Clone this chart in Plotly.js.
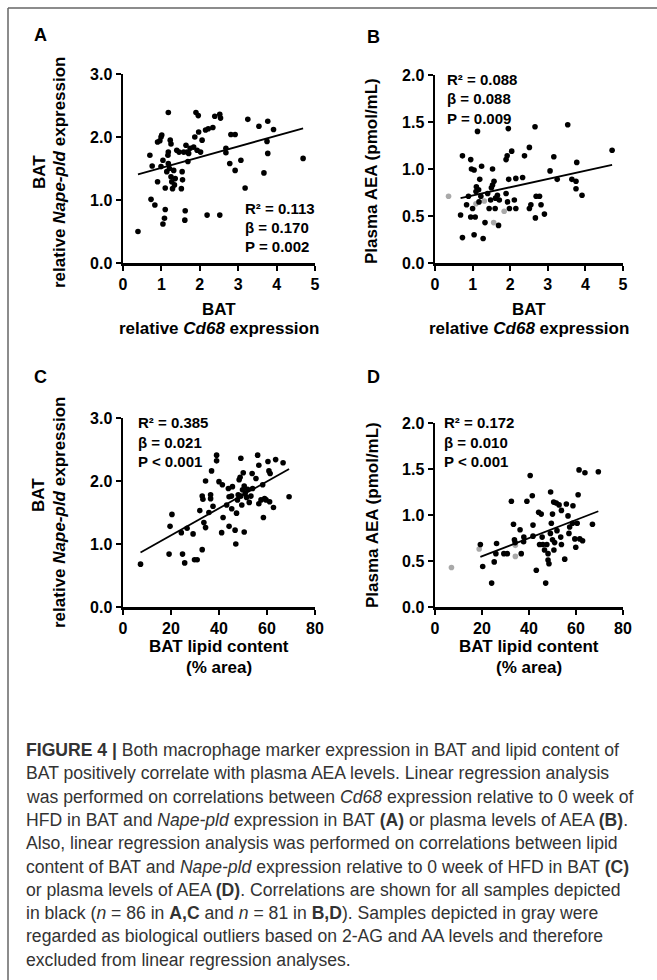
<!DOCTYPE html>
<html>
<head>
<meta charset="utf-8">
<script src="https://cdn.plot.ly/plotly-3.0.1.min.js"></script>
<style>html,body{margin:0;padding:0;background:#fff;}#chart{width:657px;height:980px;}</style>
</head>
<body>
<div id="chart"></div>
<script>
// ---------- Panel A: Cd68 (x) vs Nape-pld (y) ----------
const aBlackX = [0.39,0.70,0.73,0.76,0.83,0.90,0.90,0.96,0.99,1.01,1.04,0.99,1.04,1.08,1.10,1.10,1.18,1.14,1.17,1.18,1.18,1.23,1.25,1.21,1.25,1.27,1.29,1.32,1.34,1.36,1.40,1.46,1.52,1.54,1.55,1.58,1.61,1.62,1.64,1.67,1.69,1.71,1.75,1.84,1.87,1.90,1.96,1.93,1.97,2.02,2.06,2.15,2.19,2.22,2.34,2.39,2.52,2.54,2.52,2.68,2.68,2.78,2.81,2.92,2.92,3.07,3.18,3.25,3.54,3.67,3.75,3.77,3.77,3.92,4.69];
const aBlackY = [0.50,1.71,1.01,1.54,0.92,1.29,1.92,1.94,2.00,2.03,1.63,1.53,0.62,0.71,0.85,1.19,2.39,1.45,1.71,1.76,1.58,1.95,1.89,1.50,1.37,1.29,1.18,1.47,1.24,1.34,1.79,1.76,1.18,1.45,1.32,1.76,0.68,0.83,1.87,1.76,1.61,1.74,1.82,1.84,2.00,2.39,2.34,1.79,2.08,1.76,1.95,2.11,0.76,2.13,2.15,2.33,2.36,2.30,0.76,1.82,1.75,1.58,2.04,2.04,1.47,1.63,1.19,2.28,2.17,1.43,1.93,2.25,1.74,2.12,1.66];

// ---------- Panel B: Cd68 (x) vs plasma AEA (y) ----------
const bBlackX = [1.13,1.95,2.66,3.53,4.71,0.73,0.95,0.97,1.04,1.24,1.53,1.89,1.92,2.04,2.38,2.51,3.16,3.06,3.25,3.77,3.64,3.75,3.75,3.91,1.96,2.15,2.33,0.68,0.73,0.84,0.89,0.95,1.00,1.04,1.07,1.09,1.10,1.16,1.17,1.19,1.22,1.28,1.33,1.40,1.44,1.48,1.50,1.53,1.57,1.60,1.61,1.66,1.69,1.71,1.89,1.93,1.98,2.11,2.15,2.51,2.55,2.67,2.69,2.78,2.82,2.91];
const bBlackY = [1.40,1.43,1.45,1.47,1.20,1.14,1.10,1.00,0.99,1.03,1.00,1.10,1.14,1.19,1.14,1.23,1.13,0.98,0.89,1.07,0.89,0.87,0.79,0.72,0.89,0.90,0.91,0.51,0.27,0.62,0.71,0.49,0.58,0.30,0.49,0.76,0.81,0.78,0.65,0.89,0.71,0.26,0.43,0.74,0.58,0.67,0.80,0.83,0.87,0.58,0.69,0.72,0.40,0.67,0.74,0.65,0.58,0.67,0.58,0.58,0.62,0.48,0.71,0.71,0.62,0.52];
const bGrayX = [0.36,1.09,1.31,1.56,1.84];
const bGrayY = [0.71,0.63,0.66,0.43,0.55];

// ---------- Panel C: lipid content (x) vs Nape-pld (y) ----------
const cBlackX = [7.3,19.2,20.4,19.6,24.3,24.8,25.7,26.7,29.2,29.8,30.9,32.0,33.0,33.7,34.4,34.4,33.0,33.3,36.5,36.5,36.9,37.5,35.8,39.0,39.0,40.0,41.4,41.1,41.7,43.2,43.9,44.2,44.2,45.2,45.3,45.6,46.7,47.0,47.3,47.7,48.0,48.4,48.8,49.1,49.1,49.5,49.8,50.1,50.5,50.5,50.9,51.5,51.9,52.6,53.3,53.8,54.0,55.4,56.1,56.6,56.6,57.5,58.2,58.5,59.0,59.6,60.4,60.8,61.3,61.1,62.7,63.6,66.7,69.2];
const cBlackY = [0.68,0.84,1.47,1.28,1.18,0.84,0.70,1.25,1.16,0.75,0.75,1.53,0.91,1.34,2.00,1.26,1.76,1.71,1.72,1.78,2.16,1.60,1.50,2.41,2.32,1.99,1.94,1.18,1.42,1.62,1.88,1.75,1.28,1.76,1.56,1.91,1.22,1.00,1.49,1.70,1.78,2.02,2.06,2.36,1.76,1.62,1.86,2.13,1.19,1.92,1.80,1.74,1.87,1.66,1.76,2.12,1.88,2.04,2.41,1.64,2.25,1.70,1.94,1.42,1.72,1.70,2.31,2.16,2.12,1.67,1.58,2.34,2.29,1.75];

// ---------- Panel D: lipid content (x) vs plasma AEA (y) ----------
const dBlackX = [19.3,20.3,24.1,25.2,25.9,26.2,29.3,30.8,32.5,33.4,33.8,34.1,36.2,36.7,37.7,37.8,39.1,40.5,41.4,41.7,41.7,43.1,44.1,44.5,45.2,45.6,45.9,46.6,47.1,47.6,48.1,48.1,48.5,49.1,49.2,49.5,50.0,50.0,50.5,50.6,50.9,51.6,51.9,52.8,53.5,53.8,53.8,55.2,55.9,56.6,57.0,57.3,58.5,58.7,59.5,59.9,60.5,60.9,61.3,61.6,62.8,63.8,67.0,69.5];
const dBlackY = [0.68,0.44,0.26,0.49,0.58,0.69,0.58,0.58,1.15,0.90,0.73,0.70,0.84,0.58,0.71,0.76,1.15,1.43,1.21,0.89,0.77,0.40,1.03,0.68,1.01,0.76,0.68,0.62,0.26,0.68,0.58,0.51,0.47,0.80,1.25,0.91,0.73,1.01,1.14,0.62,0.70,1.13,0.83,1.11,0.76,1.05,0.68,0.52,1.12,0.99,0.80,0.87,0.91,1.10,0.74,0.65,0.91,1.22,1.49,0.74,0.72,1.46,0.90,1.47];
const dGrayX = [7.0,18.8,34.2,34.2];
const dGrayY = [0.43,0.63,0.67,0.55];

// ---------- regression results (black samples only) ----------
const panelLetters = ["A","B","C","D"];
const fitSlope     = [0.170, 0.088, 0.0214, 0.0099];
const fitIntercept = [1.34, 0.63, 0.71, 0.353];
const statR2   = ["0.113","0.088","0.385","0.172"];
const statBeta = ["0.170","0.088","0.021","0.010"];
const statP    = ["P = 0.002","P = 0.009","P < 0.001","P < 0.001"];

// ---------- axis ticks ----------
const cd68Ticks  = [0,1,2,3,4,5];
const lipidTicks = [0,20,40,60,80];
const napeTicks  = [0,1,2,3];
const aeaTicks   = [0,0.5,1,1.5,2];

const W = 657, H = 980;
const px = v => v / W;
const py = v => 1 - v / H;
const FONT = "Liberation Sans, Arial, sans-serif";

function fitLine(xs, k, ax) {
  const x0 = Math.min(...xs), x1 = Math.max(...xs);
  return {x:[x0,x1], y:[fitIntercept[k]+fitSlope[k]*x0, fitIntercept[k]+fitSlope[k]*x1],
    mode:'lines', line:{color:'#000', width:1.8}, xaxis:'x'+ax, yaxis:'y'+ax,
    showlegend:false, hoverinfo:'skip', cliponaxis:false};
}
function pts(xs, ys, color, ax) {
  return {x:xs, y:ys, mode:'markers', type:'scatter', marker:{color:color, size:5.6, line:{width:0}},
    xaxis:'x'+ax, yaxis:'y'+ax, showlegend:false, cliponaxis:false};
}
const GRAY = '#a9a9a9';
const data = [
  pts(aBlackX, aBlackY, '#000', ''), fitLine(aBlackX, 0, ''),
  pts(bGrayX, bGrayY, GRAY, '2'), pts(bBlackX, bBlackY, '#000', '2'), fitLine(bBlackX, 1, '2'),
  pts(cBlackX, cBlackY, '#000', '3'), fitLine(cBlackX, 2, '3'),
  pts(dGrayX, dGrayY, GRAY, '4'), pts(dBlackX, dBlackY, '#000', '4'), fitLine(dBlackX, 3, '4')
];

const tickfont = {family:FONT, size:16, color:'#000', weight:'bold'};
function axis(extra) {
  return Object.assign({showline:true, linecolor:'#000', linewidth:2.5, ticks:'outside',
    ticklen:5, tickwidth:2, tickcolor:'#000', showgrid:false, zeroline:false,
    tickfont:tickfont, fixedrange:true, automargin:false}, extra);
}
const colX = [[123,315],[435,623]];
const rowY = [[74,263],[75,263],[418,607],[423,607]];
const dom = (a,b) => [px(a), px(b)];
const domY = (top,bot) => [py(bot), py(top)];

const layout = {
  width:W, height:H, margin:{l:0,r:0,t:0,b:0}, paper_bgcolor:'#fff', plot_bgcolor:'rgba(0,0,0,0)',
  showlegend:false, font:{family:FONT, color:'#000'},
  xaxis:  axis({domain:dom(...colX[0]), range:[0,5], tickvals:cd68Ticks, anchor:'y'}),
  yaxis:  axis({domain:domY(...rowY[0]), range:[0,3], tickvals:napeTicks, tickformat:'.1f', anchor:'x'}),
  xaxis2: axis({domain:dom(...colX[1]), range:[0,5], tickvals:cd68Ticks, anchor:'y2'}),
  yaxis2: axis({domain:domY(...rowY[1]), range:[0,2], tickvals:aeaTicks, tickformat:'.1f', anchor:'x2'}),
  xaxis3: axis({domain:dom(...colX[0]), range:[0,80], tickvals:lipidTicks, anchor:'y3'}),
  yaxis3: axis({domain:domY(...rowY[2]), range:[0,3], tickvals:napeTicks, tickformat:'.1f', anchor:'x3'}),
  xaxis4: axis({domain:dom(...colX[1]), range:[0,80], tickvals:lipidTicks, anchor:'y4'}),
  yaxis4: axis({domain:domY(...rowY[3]), range:[0,2], tickvals:aeaTicks, tickformat:'.1f', anchor:'x4'}),
  shapes:[
    {type:'line', xref:'paper', yref:'paper', x0:px(8), x1:1.01, y0:py(8), y1:py(8), line:{color:'#666', width:1.5}},
    {type:'line', xref:'paper', yref:'paper', x0:px(8), x1:px(8), y0:py(8), y1:-0.01, line:{color:'#666', width:1.5}}
  ],
  annotations:[]
};
const ann = layout.annotations;
function txt(text, x, y, opts) {
  ann.push(Object.assign({text:text, x:px(x), y:py(y), xref:'paper', yref:'paper', showarrow:false,
    xanchor:'center', yanchor:'middle', font:{family:FONT, size:17, color:'#000', weight:'bold'}}, opts||{}));
}
// panel letters
const letterPos = [[40,35],[373,37],[40,377],[373,377]];
panelLetters.forEach((L,i)=> txt(L, letterPos[i][0], letterPos[i][1], {font:{family:FONT,size:18,color:'#000',weight:'bold'}}));

// stats text
const statPos = [[243,208],[445,80],[136,423],[442,423]];
statPos.forEach((p,i)=>{
  const f = {family:FONT, size:15, color:'#000', weight:'bold'};
  txt('R² = '+statR2[i], p[0], p[1], {xanchor:'left', font:f});
  txt('β = '+statBeta[i], p[0], p[1]+19, {xanchor:'left', font:f});
  txt(statP[i], p[0], p[1]+38, {xanchor:'left', font:f});
});

// y axis titles
txt('BAT', 39, 172, {textangle:-90});
txt('relative <i>Nape-pld</i> expression', 59, 172, {textangle:-90});
txt('Plasma AEA (pmol/mL)', 372, 171, {textangle:-90});
txt('BAT', 39, 495, {textangle:-90});
txt('relative <i>Nape-pld</i> expression', 59, 512, {textangle:-90});
txt('Plasma AEA (pmol/mL)', 372, 515, {textangle:-90});
// x axis titles
txt('BAT', 219, 309); txt('relative <i>Cd68</i> expression', 219, 328);
txt('BAT', 529, 309); txt('relative <i>Cd68</i> expression', 529, 328);
txt('BAT lipid content', 219, 646); txt('(% area)', 219, 667);
txt('BAT lipid content', 529, 646); txt('(% area)', 529, 667);

// caption
const capLines = [
  '<b>FIGURE 4 |</b> Both macrophage marker expression in BAT and lipid content of',
  'BAT positively correlate with plasma AEA levels. Linear regression analysis',
  'was performed on correlations between <i>Cd68</i> expression relative to 0 week of',
  'HFD in BAT and <i>Nape-pld</i> expression in BAT <b>(A)</b> or plasma levels of AEA <b>(B)</b>.',
  'Also, linear regression analysis was performed on correlations between lipid',
  'content of BAT and <i>Nape-pld</i> expression relative to 0 week of HFD in BAT <b>(C)</b>',
  'or plasma levels of AEA <b>(D)</b>. Correlations are shown for all samples depicted',
  'in black (<i>n</i> = 86 in <b>A,C</b> and <i>n</i> = 81 in <b>B,D</b>). Samples depicted in gray were',
  'regarded as biological outliers based on 2-AG and AA levels and therefore',
  'excluded from linear regression analyses.'
];
capLines.forEach((l,i)=> txt(l, 24, 750 + i*23.3, {xanchor:'left', font:{family:FONT, size:17.6, color:'#333'}}));

Plotly.newPlot('chart', data, layout, {staticPlot:true, displayModeBar:false});
</script>
</body>
</html>
